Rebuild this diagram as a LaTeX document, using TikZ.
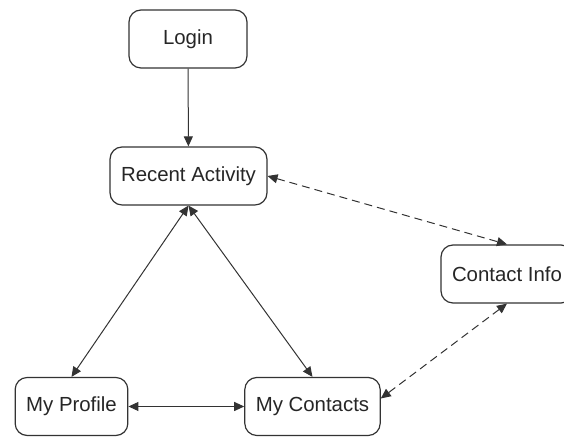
\documentclass[tikz,border=0pt]{standalone}
\usepackage{fontspec}
\setmainfont{Liberation Sans}
\usetikzlibrary{arrows.meta}
\begin{document}
\begin{tikzpicture}[x=0.5pt,y=-0.5pt]
    \tikzstyle{page}=[rounded corners=6pt, draw=black!80, line width=0.6pt, minimum height=29pt,
                      inner xsep=5.5pt, font=\fontsize{10.2}{12}\selectfont, text=black!85]
    \tikzstyle{link}=[draw=black!80, line width=0.5pt, {Triangle[length=5pt,width=4.5pt]}-{Triangle[length=5pt,width=4.5pt]}]
    \tikzstyle{sync}=[link, dash pattern=on 4pt off 2.5pt]
    \useasboundingbox (0,0) rectangle (564,437);

    \node[page, minimum width=59pt] (login)    at (188,39)   {Login};
    \node[page]                     (recent)   at (188.5,176) {Recent Activity};
    \node[page]                     (info)     at (507,274)  {Contact Info};
    \node[page]                     (profile)  at (71.5,406.5) {My Profile};
    \node[page]                     (contacts) at (312.5,406.5) {My Contacts};

    \draw[draw=black!80, line width=0.5pt, -{Triangle[length=5pt,width=4.5pt]}] (login) -- (recent);
    \draw[link] (recent.south) -- (profile.north);
    \draw[link] (recent.south) -- (contacts.north);
    \draw[link] (profile) -- (contacts);

    \draw[sync] (recent.east) -- (info.north);
    \draw[sync] (info.south) -- ([yshift=4pt]contacts.east);

\end{tikzpicture}
\end{document}
